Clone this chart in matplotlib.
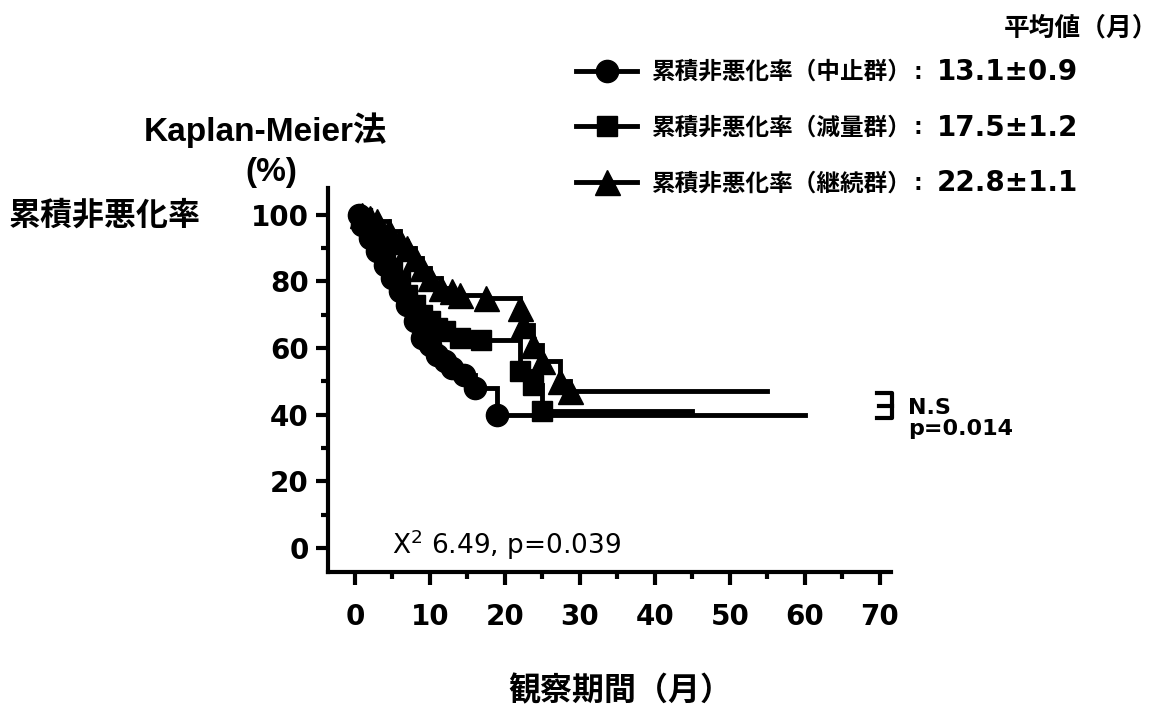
# Kaplan-Meier 累積非悪化率

import numpy as np
import matplotlib
matplotlib.use('Agg')
import matplotlib.pyplot as plt
from matplotlib.ticker import MultipleLocator

plt.rcParams['font.family'] = ['Liberation Sans', 'Noto Sans CJK JP']
plt.rcParams['mathtext.default'] = 'regular'
NUMFONT = ['DejaVu Sans', 'Noto Sans CJK JP']

# 中止群 (circle)
t_stop = [0.5, 1, 2, 3, 4, 5, 6, 7, 8, 9, 10, 11, 12, 13, 14.5, 16, 19]
s_stop = [100, 97, 93, 89, 85, 81, 77, 73, 68, 63, 61, 58, 56, 54, 52, 48, 40]
end_stop = 60

# 減量群 (square)
t_red = [1, 2, 3, 4, 5, 6, 7, 8, 9, 10, 11, 12, 14, 16.8, 22, 23.7, 25]
s_red = [99, 96, 92, 88, 84, 80, 76, 73, 70, 68, 66, 65, 63, 62.5, 53, 49, 41]
end_red = 45

# 継続群 (triangle)
t_cont = [1, 2, 3, 4.5, 6, 7, 8, 9, 10, 11.5, 13, 14, 17.5, 22, 22.4, 23.7, 25, 27.3, 28.7]
s_cont = [100, 99, 98, 95, 92, 90, 87, 84, 81, 78, 77, 76, 75, 72, 67, 61, 56, 50, 47]
end_cont = 55

labels = ['累積非悪化率（中止群）', '累積非悪化率（減量群）', '累積非悪化率（継続群）']
means = ['13.1±0.9', '17.5±1.2', '22.8±1.1']

fig = plt.figure(figsize=(11.62, 7.10), dpi=100)
ax = fig.add_axes([328 / 1162, 1 - 572 / 710, (891 - 328) / 1162, (572 - 188) / 710])

groups = [(t_stop, s_stop, end_stop, 'o', 16),
          (t_red, s_red, end_red, 's', 15),
          (t_cont, s_cont, end_cont, '^', 18)]
handles = []
for t, s, end, mk, ms in groups:
    x = [0.5] + list(t) + [end]
    y = [100] + list(s) + [s[-1]]
    ax.step(x, y, where='post', color='black', lw=3.5, solid_joinstyle='miter')
    ax.plot(t, s, ls='none', marker=mk, ms=ms, color='black')
    h, = ax.plot([], [], color='black', lw=3.5, marker=mk, ms=ms)
    handles.append(h)

ax.set_xlim(-3.6, 71.5)
ax.set_ylim(-7.2, 108)
ax.set_xticks(np.arange(0, 71, 10))
ax.xaxis.set_minor_locator(MultipleLocator(5))
ax.set_yticks(np.arange(0, 101, 20))
ax.set_yticks([10, 30, 50, 70, 90], minor=True)
for sp in ['top', 'right']:
    ax.spines[sp].set_visible(False)
for sp in ['left', 'bottom']:
    ax.spines[sp].set_linewidth(3)
ax.tick_params(which='major', length=9, width=3)
ax.tick_params(axis='y', which='major', pad=5)
ax.tick_params(axis='x', which='major', pad=13)
ax.tick_params(which='minor', length=5, width=3)
for lb in ax.get_xticklabels() + ax.get_yticklabels():
    lb.set_fontweight('bold')
    lb.set_family(NUMFONT)
    lb.set_fontsize(20)

ax.set_xlabel('観察期間（月）', fontsize=23, fontweight='bold')
ax.xaxis.set_label_coords(0.52, -0.27)

# texts
fig.text(265 / 1162, 1 - 130 / 710, 'Kaplan-Meier法', fontsize=24, fontweight='bold',
         ha='center', va='center')
fig.text(271 / 1162, 1 - 172 / 710, '(%)', fontsize=24, fontweight='bold', ha='center', va='center')
fig.text(105 / 1162, 1 - 216 / 710, '累積非悪化率', fontsize=23, fontweight='bold',
         ha='center', va='center')
ax.text(5, 1, 'X$^2$ 6.49, p=0.039', fontsize=19, family=NUMFONT, ha='left', va='center')

# bracket + p values
ax.plot([69.6, 71.6, 71.6, 69.6], [46.5, 46.5, 39, 39], color='black', lw=3, clip_on=False)
ax.plot([69.9, 71.6], [42.7, 42.7], color='black', lw=3, clip_on=False)
fig.text(908 / 1162, 1 - 408 / 710, 'N.S', fontsize=16, fontweight='bold', family=NUMFONT,
         va='center')
fig.text(908 / 1162, 1 - 429 / 710, 'p=0.014', fontsize=16, fontweight='bold', family=NUMFONT,
         va='center')

# legend
leg = ax.legend(handles, labels, loc='upper left', bbox_to_anchor=(576 / 1162, 1 - 61 / 710),
                bbox_transform=fig.transFigure, frameon=False, borderpad=0, borderaxespad=0,
                handlelength=2.6, handletextpad=0.6, labelspacing=1.38,
                prop={'size': 17, 'weight': 'bold'})
for i, m in enumerate(means):
    yy = 1 - (72 + 55.5 * i) / 710
    fig.text(918 / 1162, yy, ':', fontsize=19, fontweight='bold', ha='center', va='center')
    fig.text(937 / 1162, yy, m, fontsize=20, fontweight='bold', family=NUMFONT,
             ha='left', va='center')
fig.text(1158 / 1162, 1 - 28 / 710, '平均値（月）', fontsize=18.5, fontweight='bold',
         ha='right', va='center')

fig.savefig('out.png', dpi=100)
